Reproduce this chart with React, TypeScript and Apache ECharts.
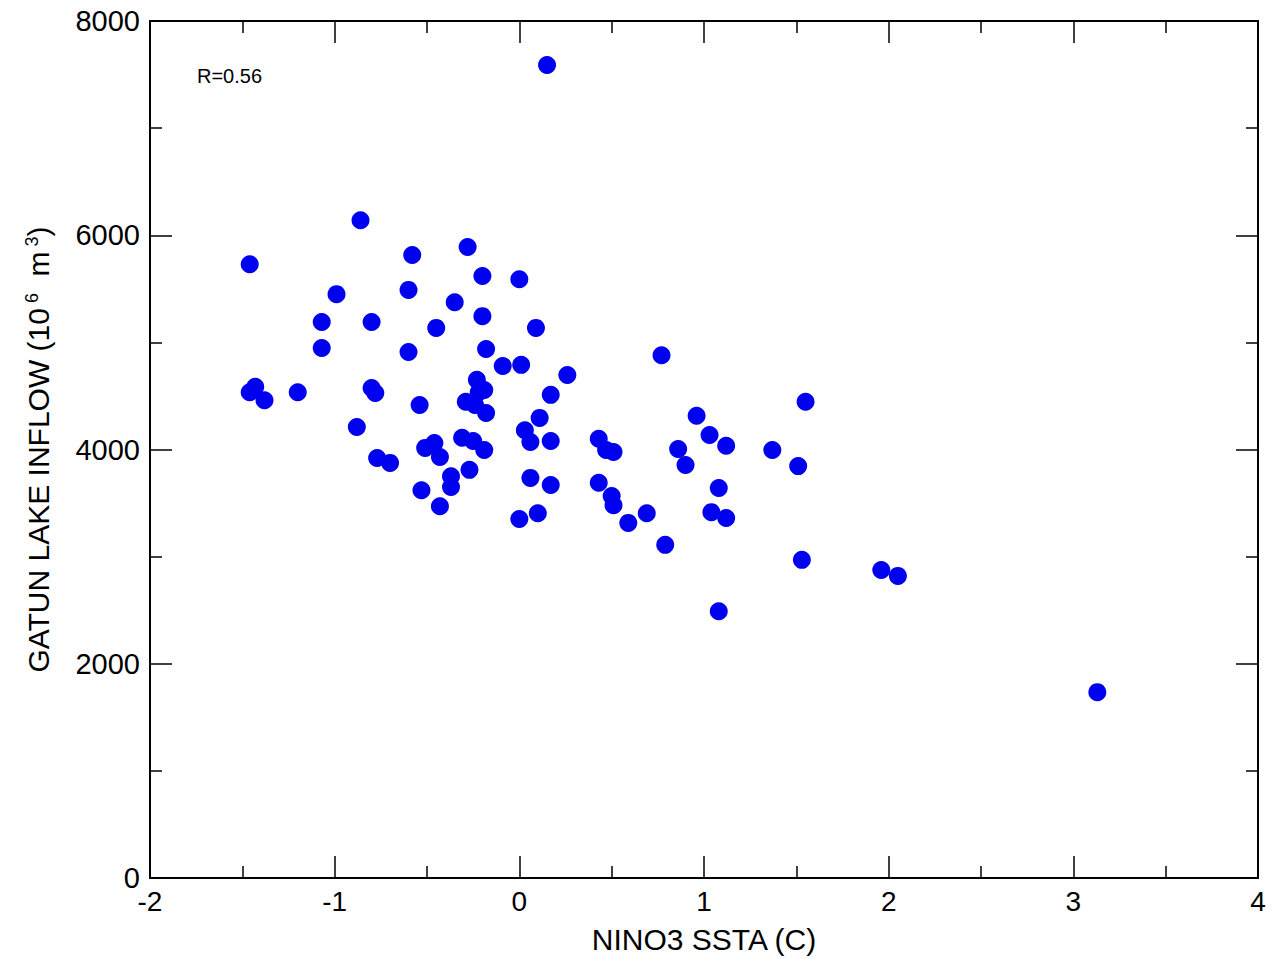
import React, { useEffect, useRef } from "react";
import * as echarts from "echarts";

// NINO3 SST anomaly (deg C) for each year
const nino3Ssta: number[] = [
  0.15, -1.46, -1.46, -1.43, -1.38, -1.2, -1.07, -1.07, -0.99, -0.86,
  -0.88, -0.8, -0.8, -0.78, -0.77, -0.7, -0.58, -0.6, -0.6, -0.54,
  -0.53, -0.51, -0.46, -0.45, -0.43, -0.43, -0.37, -0.37, -0.35, -0.31,
  -0.29, -0.28, -0.27, -0.25, -0.24, -0.23, -0.22, -0.2, -0.2, -0.19,
  -0.19, -0.18, -0.18, -0.09, 0.0, 0.01, 0.0, 0.03, 0.06, 0.06,
  0.09, 0.1, 0.11, 0.17, 0.17, 0.17, 0.26, 0.43, 0.43, 0.47,
  0.5, 0.51, 0.51, 0.59, 0.69, 0.77, 0.79, 0.86, 0.9, 0.96,
  1.03, 1.04, 1.08, 1.08, 1.12, 1.12, 1.37, 1.51, 1.53, 1.55,
  1.96, 2.05, 3.13,
];

// Gatun Lake inflow (10^6 m^3) for the same years
const gatunInflow: number[] = [
  7590, 5730, 4535, 4585, 4460, 4535, 5190, 4948, 5450, 6140,
  4210, 5190, 4574, 4527, 3920, 3875, 5815, 5490, 4910, 4415,
  3620, 4015, 4060, 5135, 3930, 3470, 3750, 3650, 5375, 4110,
  4445, 5890, 3810, 4080, 4415, 4650, 4535, 5245, 5620, 3995,
  4555, 4340, 4938, 4780, 5590, 4790, 3351, 4180, 4070, 3735,
  5135, 3405, 4295, 4510, 4080, 3669, 4695, 4100, 3690, 3995,
  3565, 3480, 3977, 3315, 3405, 4880, 3110, 4005, 3855, 4315,
  4135, 3415, 3640, 2490, 4035, 3361, 3995, 3845, 2970, 4445,
  2875, 2820, 1735,
];

const correlationLabel = "R=0.56";
const xAxisTitle = "NINO3 SSTA (C)";

const FONT = "'Liberation Sans', Arial, Helvetica, sans-serif";

export default function App() {
  const ref = useRef<HTMLDivElement>(null);

  useEffect(() => {
    if (!ref.current) return;
    const chart = echarts.init(ref.current, null, { renderer: "svg" });

    const points = nino3Ssta.map((x, i) => [x, gatunInflow[i]]);

    const frameAxis = {
      axisLine: { show: true, onZero: false, lineStyle: { color: "#000", width: 2 } },
      axisTick: { show: true, inside: true, length: 22, lineStyle: { color: "#000", width: 1.5 } },
      minorTick: { show: true, splitNumber: 2, length: 12, lineStyle: { color: "#000", width: 1.5 } },
      splitLine: { show: false },
      minorSplitLine: { show: false },
    };

    chart.setOption({
      animation: false,
      backgroundColor: "#fff",
      grid: { left: 150, right: 18, top: 21, bottom: 81, containLabel: false },
      xAxis: [
        {
          type: "value",
          position: "bottom",
          min: -2,
          max: 4,
          interval: 1,
          ...frameAxis,
          axisLabel: { color: "#000", fontSize: 28, fontFamily: FONT, margin: 9 },
          name: xAxisTitle,
          nameLocation: "middle",
          nameGap: 46,
          nameTextStyle: { color: "#000", fontSize: 30, fontFamily: FONT },
        },
        {
          type: "value",
          position: "top",
          min: -2,
          max: 4,
          interval: 1,
          ...frameAxis,
          axisLabel: { show: false },
        },
      ],
      yAxis: [
        {
          type: "value",
          position: "left",
          min: 0,
          max: 8000,
          interval: 2000,
          ...frameAxis,
          axisLabel: {
            color: "#000",
            fontSize: 29,
            fontFamily: FONT,
            margin: 10,
            formatter: (v: number) => String(v),
          },
          name: "{a|GATUN LAKE INFLOW (10}{s| 6}{a|  m}{s| 3}{a|)}",
          nameLocation: "middle",
          nameGap: 97,
          nameTextStyle: {
            color: "#000",
            fontSize: 30,
            fontFamily: FONT,
            rich: {
              a: { fontSize: 30, fontFamily: FONT, color: "#000", verticalAlign: "bottom" },
              s: { fontSize: 18, fontFamily: FONT, color: "#000", verticalAlign: "top" },
            },
          },
        },
        {
          type: "value",
          position: "right",
          min: 0,
          max: 8000,
          interval: 2000,
          ...frameAxis,
          axisLabel: { show: false },
        },
      ],
      series: [
        {
          type: "scatter",
          xAxisIndex: 0,
          yAxisIndex: 0,
          data: points,
          symbol: "circle",
          symbolSize: 18,
          itemStyle: { color: "#0000f0", opacity: 1 },
          emphasis: { disabled: true },
        },
      ],
      graphic: [
        {
          type: "text",
          left: 197,
          top: 66,
          style: { text: correlationLabel, fill: "#000", fontSize: 20, fontFamily: FONT },
        },
      ],
    });

    return () => chart.dispose();
  }, []);

  return (
    <div
      ref={ref}
      style={{ position: "fixed", left: 0, top: 0, width: 1276, height: 959, background: "#fff" }}
    />
  );
}
